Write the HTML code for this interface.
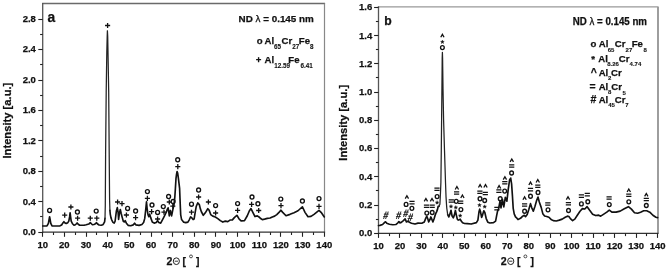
<!DOCTYPE html><html><head><meta charset="utf-8"><style>html,body{margin:0;padding:0;background:#fff;}body{width:668px;height:270px;overflow:hidden;font-family:"Liberation Sans",sans-serif;}svg{display:block;will-change:transform;} text{stroke:#111;stroke-width:0.25px;paint-order:fill;}</style></head><body><svg width="668" height="270" viewBox="0 0 668 270" font-family='"Liberation Sans", sans-serif' fill="#111">
<rect width="668" height="270" fill="#fff"/>
<line x1="42.1" y1="3.5" x2="325.1" y2="3.5" stroke="#6a6a6a" stroke-width="1.3"/>
<line x1="324.5" y1="3.5" x2="324.5" y2="232.2" stroke="#888" stroke-width="1.2"/>
<line x1="42.7" y1="2.9" x2="42.7" y2="232.79999999999998" stroke="#555" stroke-width="1.3"/>
<line x1="42.1" y1="232.2" x2="325.1" y2="232.2" stroke="#333" stroke-width="1.3"/>
<line x1="42.50" y1="232.2" x2="42.50" y2="236.79999999999998" stroke="#222" stroke-width="1.1"/>
<text x="42.70" y="248.0" text-anchor="middle" font-size="9.5" font-weight="bold">10</text>
<line x1="53.50" y1="232.2" x2="53.50" y2="235.0" stroke="#222" stroke-width="1.1"/>
<line x1="64.50" y1="232.2" x2="64.50" y2="236.79999999999998" stroke="#222" stroke-width="1.1"/>
<text x="64.36" y="248.0" text-anchor="middle" font-size="9.5" font-weight="bold">20</text>
<line x1="75.50" y1="232.2" x2="75.50" y2="235.0" stroke="#222" stroke-width="1.1"/>
<line x1="86.50" y1="232.2" x2="86.50" y2="236.79999999999998" stroke="#222" stroke-width="1.1"/>
<text x="86.02" y="248.0" text-anchor="middle" font-size="9.5" font-weight="bold">30</text>
<line x1="96.50" y1="232.2" x2="96.50" y2="235.0" stroke="#222" stroke-width="1.1"/>
<line x1="107.50" y1="232.2" x2="107.50" y2="236.79999999999998" stroke="#222" stroke-width="1.1"/>
<text x="107.68" y="248.0" text-anchor="middle" font-size="9.5" font-weight="bold">40</text>
<line x1="118.50" y1="232.2" x2="118.50" y2="235.0" stroke="#222" stroke-width="1.1"/>
<line x1="129.50" y1="232.2" x2="129.50" y2="236.79999999999998" stroke="#222" stroke-width="1.1"/>
<text x="129.35" y="248.0" text-anchor="middle" font-size="9.5" font-weight="bold">50</text>
<line x1="140.50" y1="232.2" x2="140.50" y2="235.0" stroke="#222" stroke-width="1.1"/>
<line x1="151.50" y1="232.2" x2="151.50" y2="236.79999999999998" stroke="#222" stroke-width="1.1"/>
<text x="151.01" y="248.0" text-anchor="middle" font-size="9.5" font-weight="bold">60</text>
<line x1="161.50" y1="232.2" x2="161.50" y2="235.0" stroke="#222" stroke-width="1.1"/>
<line x1="172.50" y1="232.2" x2="172.50" y2="236.79999999999998" stroke="#222" stroke-width="1.1"/>
<text x="172.67" y="248.0" text-anchor="middle" font-size="9.5" font-weight="bold">70</text>
<line x1="183.50" y1="232.2" x2="183.50" y2="235.0" stroke="#222" stroke-width="1.1"/>
<line x1="194.50" y1="232.2" x2="194.50" y2="236.79999999999998" stroke="#222" stroke-width="1.1"/>
<text x="194.33" y="248.0" text-anchor="middle" font-size="9.5" font-weight="bold">80</text>
<line x1="205.50" y1="232.2" x2="205.50" y2="235.0" stroke="#222" stroke-width="1.1"/>
<line x1="215.50" y1="232.2" x2="215.50" y2="236.79999999999998" stroke="#222" stroke-width="1.1"/>
<text x="215.99" y="248.0" text-anchor="middle" font-size="9.5" font-weight="bold">90</text>
<line x1="226.50" y1="232.2" x2="226.50" y2="235.0" stroke="#222" stroke-width="1.1"/>
<line x1="237.50" y1="232.2" x2="237.50" y2="236.79999999999998" stroke="#222" stroke-width="1.1"/>
<text x="237.65" y="248.0" text-anchor="middle" font-size="9.5" font-weight="bold">100</text>
<line x1="248.50" y1="232.2" x2="248.50" y2="235.0" stroke="#222" stroke-width="1.1"/>
<line x1="259.50" y1="232.2" x2="259.50" y2="236.79999999999998" stroke="#222" stroke-width="1.1"/>
<text x="259.32" y="248.0" text-anchor="middle" font-size="9.5" font-weight="bold">110</text>
<line x1="270.50" y1="232.2" x2="270.50" y2="235.0" stroke="#222" stroke-width="1.1"/>
<line x1="280.50" y1="232.2" x2="280.50" y2="236.79999999999998" stroke="#222" stroke-width="1.1"/>
<text x="280.98" y="248.0" text-anchor="middle" font-size="9.5" font-weight="bold">120</text>
<line x1="291.50" y1="232.2" x2="291.50" y2="235.0" stroke="#222" stroke-width="1.1"/>
<line x1="302.50" y1="232.2" x2="302.50" y2="236.79999999999998" stroke="#222" stroke-width="1.1"/>
<text x="302.64" y="248.0" text-anchor="middle" font-size="9.5" font-weight="bold">130</text>
<line x1="313.50" y1="232.2" x2="313.50" y2="235.0" stroke="#222" stroke-width="1.1"/>
<line x1="324.50" y1="232.2" x2="324.50" y2="236.79999999999998" stroke="#222" stroke-width="1.1"/>
<text x="324.30" y="248.0" text-anchor="middle" font-size="9.5" font-weight="bold">140</text>
<line x1="38.300000000000004" y1="232.50" x2="42.7" y2="232.50" stroke="#222" stroke-width="1.1"/>
<text x="35.9" y="235.10" text-anchor="end" font-size="9.5" font-weight="bold">0.0</text>
<line x1="38.300000000000004" y1="201.50" x2="42.7" y2="201.50" stroke="#222" stroke-width="1.1"/>
<text x="35.9" y="204.66" text-anchor="end" font-size="9.5" font-weight="bold">0.4</text>
<line x1="38.300000000000004" y1="171.50" x2="42.7" y2="171.50" stroke="#222" stroke-width="1.1"/>
<text x="35.9" y="174.22" text-anchor="end" font-size="9.5" font-weight="bold">0.8</text>
<line x1="38.300000000000004" y1="140.50" x2="42.7" y2="140.50" stroke="#222" stroke-width="1.1"/>
<text x="35.9" y="143.78" text-anchor="end" font-size="9.5" font-weight="bold">1.2</text>
<line x1="38.300000000000004" y1="110.50" x2="42.7" y2="110.50" stroke="#222" stroke-width="1.1"/>
<text x="35.9" y="113.34" text-anchor="end" font-size="9.5" font-weight="bold">1.6</text>
<line x1="38.300000000000004" y1="80.50" x2="42.7" y2="80.50" stroke="#222" stroke-width="1.1"/>
<text x="35.9" y="82.90" text-anchor="end" font-size="9.5" font-weight="bold">2.0</text>
<line x1="38.300000000000004" y1="49.50" x2="42.7" y2="49.50" stroke="#222" stroke-width="1.1"/>
<text x="35.9" y="52.46" text-anchor="end" font-size="9.5" font-weight="bold">2.4</text>
<line x1="38.300000000000004" y1="19.50" x2="42.7" y2="19.50" stroke="#222" stroke-width="1.1"/>
<text x="35.9" y="22.02" text-anchor="end" font-size="9.5" font-weight="bold">2.8</text>
<line x1="40.1" y1="216.50" x2="42.7" y2="216.50" stroke="#222" stroke-width="1.1"/>
<line x1="40.1" y1="186.50" x2="42.7" y2="186.50" stroke="#222" stroke-width="1.1"/>
<line x1="40.1" y1="156.50" x2="42.7" y2="156.50" stroke="#222" stroke-width="1.1"/>
<line x1="40.1" y1="125.50" x2="42.7" y2="125.50" stroke="#222" stroke-width="1.1"/>
<line x1="40.1" y1="95.50" x2="42.7" y2="95.50" stroke="#222" stroke-width="1.1"/>
<line x1="40.1" y1="64.50" x2="42.7" y2="64.50" stroke="#222" stroke-width="1.1"/>
<line x1="40.1" y1="34.50" x2="42.7" y2="34.50" stroke="#222" stroke-width="1.1"/>
<line x1="377.9" y1="6.9" x2="658.6" y2="6.9" stroke="#999" stroke-width="1.3"/>
<line x1="658.0" y1="6.9" x2="658.0" y2="233.3" stroke="#999" stroke-width="1.9"/>
<line x1="378.5" y1="6.300000000000001" x2="378.5" y2="233.9" stroke="#555" stroke-width="1.3"/>
<line x1="377.9" y1="233.3" x2="658.6" y2="233.3" stroke="#333" stroke-width="1.3"/>
<line x1="378.50" y1="233.3" x2="378.50" y2="237.9" stroke="#222" stroke-width="1.1"/>
<text x="378.50" y="248.7" text-anchor="middle" font-size="9.5" font-weight="bold">10</text>
<line x1="389.50" y1="233.3" x2="389.50" y2="236.10000000000002" stroke="#222" stroke-width="1.1"/>
<line x1="399.50" y1="233.3" x2="399.50" y2="237.9" stroke="#222" stroke-width="1.1"/>
<text x="399.97" y="248.7" text-anchor="middle" font-size="9.5" font-weight="bold">20</text>
<line x1="410.50" y1="233.3" x2="410.50" y2="236.10000000000002" stroke="#222" stroke-width="1.1"/>
<line x1="421.50" y1="233.3" x2="421.50" y2="237.9" stroke="#222" stroke-width="1.1"/>
<text x="421.44" y="248.7" text-anchor="middle" font-size="9.5" font-weight="bold">30</text>
<line x1="432.50" y1="233.3" x2="432.50" y2="236.10000000000002" stroke="#222" stroke-width="1.1"/>
<line x1="442.50" y1="233.3" x2="442.50" y2="237.9" stroke="#222" stroke-width="1.1"/>
<text x="442.91" y="248.7" text-anchor="middle" font-size="9.5" font-weight="bold">40</text>
<line x1="453.50" y1="233.3" x2="453.50" y2="236.10000000000002" stroke="#222" stroke-width="1.1"/>
<line x1="464.50" y1="233.3" x2="464.50" y2="237.9" stroke="#222" stroke-width="1.1"/>
<text x="464.38" y="248.7" text-anchor="middle" font-size="9.5" font-weight="bold">50</text>
<line x1="475.50" y1="233.3" x2="475.50" y2="236.10000000000002" stroke="#222" stroke-width="1.1"/>
<line x1="485.50" y1="233.3" x2="485.50" y2="237.9" stroke="#222" stroke-width="1.1"/>
<text x="485.85" y="248.7" text-anchor="middle" font-size="9.5" font-weight="bold">60</text>
<line x1="496.50" y1="233.3" x2="496.50" y2="236.10000000000002" stroke="#222" stroke-width="1.1"/>
<line x1="507.50" y1="233.3" x2="507.50" y2="237.9" stroke="#222" stroke-width="1.1"/>
<text x="507.32" y="248.7" text-anchor="middle" font-size="9.5" font-weight="bold">70</text>
<line x1="518.50" y1="233.3" x2="518.50" y2="236.10000000000002" stroke="#222" stroke-width="1.1"/>
<line x1="528.50" y1="233.3" x2="528.50" y2="237.9" stroke="#222" stroke-width="1.1"/>
<text x="528.78" y="248.7" text-anchor="middle" font-size="9.5" font-weight="bold">80</text>
<line x1="539.50" y1="233.3" x2="539.50" y2="236.10000000000002" stroke="#222" stroke-width="1.1"/>
<line x1="550.50" y1="233.3" x2="550.50" y2="237.9" stroke="#222" stroke-width="1.1"/>
<text x="550.25" y="248.7" text-anchor="middle" font-size="9.5" font-weight="bold">90</text>
<line x1="560.50" y1="233.3" x2="560.50" y2="236.10000000000002" stroke="#222" stroke-width="1.1"/>
<line x1="571.50" y1="233.3" x2="571.50" y2="237.9" stroke="#222" stroke-width="1.1"/>
<text x="571.72" y="248.7" text-anchor="middle" font-size="9.5" font-weight="bold">100</text>
<line x1="582.50" y1="233.3" x2="582.50" y2="236.10000000000002" stroke="#222" stroke-width="1.1"/>
<line x1="593.50" y1="233.3" x2="593.50" y2="237.9" stroke="#222" stroke-width="1.1"/>
<text x="593.19" y="248.7" text-anchor="middle" font-size="9.5" font-weight="bold">110</text>
<line x1="603.50" y1="233.3" x2="603.50" y2="236.10000000000002" stroke="#222" stroke-width="1.1"/>
<line x1="614.50" y1="233.3" x2="614.50" y2="237.9" stroke="#222" stroke-width="1.1"/>
<text x="614.66" y="248.7" text-anchor="middle" font-size="9.5" font-weight="bold">120</text>
<line x1="625.50" y1="233.3" x2="625.50" y2="236.10000000000002" stroke="#222" stroke-width="1.1"/>
<line x1="636.50" y1="233.3" x2="636.50" y2="237.9" stroke="#222" stroke-width="1.1"/>
<text x="636.13" y="248.7" text-anchor="middle" font-size="9.5" font-weight="bold">130</text>
<line x1="646.50" y1="233.3" x2="646.50" y2="236.10000000000002" stroke="#222" stroke-width="1.1"/>
<line x1="657.50" y1="233.3" x2="657.50" y2="237.9" stroke="#222" stroke-width="1.1"/>
<text x="657.60" y="248.7" text-anchor="middle" font-size="9.5" font-weight="bold">140</text>
<line x1="374.1" y1="233.50" x2="378.5" y2="233.50" stroke="#222" stroke-width="1.1"/>
<text x="372.2" y="236.20" text-anchor="end" font-size="9.5" font-weight="bold">0.0</text>
<line x1="374.1" y1="205.50" x2="378.5" y2="205.50" stroke="#222" stroke-width="1.1"/>
<text x="372.2" y="207.96" text-anchor="end" font-size="9.5" font-weight="bold">0.2</text>
<line x1="374.1" y1="176.50" x2="378.5" y2="176.50" stroke="#222" stroke-width="1.1"/>
<text x="372.2" y="179.72" text-anchor="end" font-size="9.5" font-weight="bold">0.4</text>
<line x1="374.1" y1="148.50" x2="378.5" y2="148.50" stroke="#222" stroke-width="1.1"/>
<text x="372.2" y="151.48" text-anchor="end" font-size="9.5" font-weight="bold">0.6</text>
<line x1="374.1" y1="120.50" x2="378.5" y2="120.50" stroke="#222" stroke-width="1.1"/>
<text x="372.2" y="123.24" text-anchor="end" font-size="9.5" font-weight="bold">0.8</text>
<line x1="374.1" y1="92.50" x2="378.5" y2="92.50" stroke="#222" stroke-width="1.1"/>
<text x="372.2" y="95.00" text-anchor="end" font-size="9.5" font-weight="bold">1.0</text>
<line x1="374.1" y1="63.50" x2="378.5" y2="63.50" stroke="#222" stroke-width="1.1"/>
<text x="372.2" y="66.76" text-anchor="end" font-size="9.5" font-weight="bold">1.2</text>
<line x1="374.1" y1="35.50" x2="378.5" y2="35.50" stroke="#222" stroke-width="1.1"/>
<text x="372.2" y="38.52" text-anchor="end" font-size="9.5" font-weight="bold">1.4</text>
<line x1="374.1" y1="7.50" x2="378.5" y2="7.50" stroke="#222" stroke-width="1.1"/>
<text x="372.2" y="10.28" text-anchor="end" font-size="9.5" font-weight="bold">1.6</text>
<line x1="375.9" y1="219.50" x2="378.5" y2="219.50" stroke="#222" stroke-width="1.1"/>
<line x1="375.9" y1="190.50" x2="378.5" y2="190.50" stroke="#222" stroke-width="1.1"/>
<line x1="375.9" y1="162.50" x2="378.5" y2="162.50" stroke="#222" stroke-width="1.1"/>
<line x1="375.9" y1="134.50" x2="378.5" y2="134.50" stroke="#222" stroke-width="1.1"/>
<line x1="375.9" y1="106.50" x2="378.5" y2="106.50" stroke="#222" stroke-width="1.1"/>
<line x1="375.9" y1="77.50" x2="378.5" y2="77.50" stroke="#222" stroke-width="1.1"/>
<line x1="375.9" y1="49.50" x2="378.5" y2="49.50" stroke="#222" stroke-width="1.1"/>
<line x1="375.9" y1="21.50" x2="378.5" y2="21.50" stroke="#222" stroke-width="1.1"/>
<polyline points="42.7,225.95 47.0,225.95 48.4,223.35 49.6,216.75 50.8,223.35 52.0,225.95 60.0,225.85 61.6,225.05 63.1,222.65 63.9,221.65 64.7,222.65 66.2,223.45 67.8,222.65 68.8,221.15 69.6,216.95 70.1,212.85 70.6,216.95 71.2,221.15 72.5,223.75 74.0,225.25 75.4,224.75 76.4,223.75 77.1,222.95 78.2,224.25 79.7,225.25 82.0,225.25 84.1,225.25 86.2,224.75 88.8,224.05 90.3,222.65 91.4,223.75 92.4,224.75 93.9,224.45 95.5,223.75 96.5,222.65 97.6,224.05 99.1,225.05 101.2,225.25 102.8,224.75 103.6,223.65 104.6,221.85 105.0,218.35" fill="none" stroke="#111" stroke-width="1.65" stroke-linejoin="round" stroke-linecap="round"/>
<polyline points="109.9,210.35 110.3,214.35 111.0,217.85 111.8,220.05 113.0,222.35 114.2,223.15 115.1,221.25 116.4,210.85 117.3,207.65 118.1,212.15 118.6,219.35 119.4,213.45 120.3,209.55 121.2,213.45 122.2,217.35 123.3,221.25 124.2,221.95 125.2,220.65 126.4,223.15 128.1,225.35 130.7,225.75 133.3,224.85 134.6,223.15 135.8,224.85 139.1,225.35 141.9,224.45 143.6,222.55 144.7,218.65 145.6,210.85 146.5,201.85 147.1,208.35 148.0,214.75 148.8,216.75 149.7,214.15 150.6,217.35 152.3,221.95 154.2,223.15 156.2,222.55 157.5,220.65 158.8,222.55 160.7,223.15 162.7,219.35 164.0,216.85 165.1,214.65 166.3,212.25 167.3,209.35 168.1,207.85 168.7,211.35 169.3,215.85 170.4,210.45 171.6,215.85 172.8,209.85 174.0,204.55 174.8,197.45 175.4,188.35 176.0,178.35 176.6,173.85 177.1,171.55 177.7,173.35 178.4,178.35 179.6,188.35 180.0,198.35 180.4,208.35 180.7,214.85 181.6,219.55 183.7,222.15 185.8,222.65 187.9,222.15 189.4,219.55 190.5,216.95 191.5,217.45 193.1,219.55 194.1,219.05 195.1,212.85 196.2,206.55 197.7,202.95 199.3,204.55 200.3,208.65 201.4,211.75 203.3,215.35 205.3,212.85 207.8,208.65 209.2,210.35 210.7,214.55 212.8,216.15 215.3,217.05 217.8,218.65 220.3,220.65 222.8,222.05 225.3,221.15 227.8,221.65 230.0,220.05 232.4,219.85 234.3,217.65 236.9,215.25 239.2,219.15 241.1,220.85 244.5,220.65 247.3,215.75 249.3,210.95 251.0,208.55 253.1,212.85 255.0,216.55 257.3,215.85 259.0,216.95 260.7,218.55 262.3,219.65 264.6,219.15 267.3,218.35 270.1,218.05 272.3,216.95 274.6,216.15 276.8,214.65 279.0,212.45 280.8,210.15 282.5,212.15 286.0,215.75 290.0,214.35 294.0,212.75 298.0,210.75 302.4,206.75 305.0,212.35 308.0,216.75 311.0,216.35 314.0,214.35 319.0,210.35 321.6,212.95 324.3,216.95" fill="none" stroke="#111" stroke-width="1.65" stroke-linejoin="round" stroke-linecap="round"/>
<polyline points="105.0,218.35 105.3,205.35 105.6,154.35 106.2,92.35 106.8,52.35 107.2,36.35 107.4,30.75 107.7,36.35 108.0,52.35 108.7,92.35 109.2,154.35 109.6,200.35 109.9,210.35" fill="none" stroke="#222" stroke-width="1.25" stroke-linejoin="round" stroke-linecap="round"/>
<polyline points="378.5,225.55 380.0,225.35 382.6,224.55 384.7,222.35 385.5,221.75 386.8,223.25 389.4,224.25 392.8,224.75 395.8,224.55 397.9,222.85 398.9,221.55 399.8,222.85 401.3,222.35 403.4,220.65 405.1,218.95 406.4,221.95 408.1,221.15 409.4,222.35 411.5,223.25 415.0,224.05 418.0,223.15 421.8,223.25 424.3,221.95 425.8,218.15 426.8,216.25 427.8,218.75 428.7,221.95 430.0,219.45 430.8,216.95 431.9,219.45 432.9,221.95 434.1,218.75 435.0,215.65 435.9,213.15 436.6,211.85 437.5,209.35 438.2,206.25 439.0,206.35" fill="none" stroke="#111" stroke-width="1.65" stroke-linejoin="round" stroke-linecap="round"/>
<polyline points="447.7,214.65 448.8,216.95 449.9,214.15 451.0,210.25 452.0,215.75 453.3,217.85 454.4,214.85 455.4,210.45 456.3,214.85 457.3,219.15 458.3,220.05 459.2,219.65 460.2,219.15 461.2,221.05 462.6,222.75 464.5,223.45 467.4,223.65 471.2,224.05 476.4,222.65 477.9,220.05 479.0,211.75 479.7,209.15 480.5,211.75 481.6,217.45 482.6,214.85 483.8,210.75 484.9,212.75 486.2,218.55 487.8,222.15 489.9,222.95 493.5,222.65 495.6,221.05 496.6,215.95 497.5,211.35 498.6,208.85 500.0,201.15 501.0,207.95 502.4,199.25 503.8,206.95 505.3,197.35 506.9,201.15 508.2,189.65 509.6,179.95 510.7,178.05 511.6,183.85 512.4,195.35 513.2,208.35 514.2,213.85 515.5,216.85 516.9,218.15 518.0,219.55 520.5,218.35 522.7,216.15 524.3,215.35 525.5,216.65 527.2,214.55 528.8,209.55 530.5,203.65 531.8,207.85 533.3,211.15 535.0,206.15 536.7,200.35 538.0,197.05 539.3,202.05 541.2,207.35 542.8,213.65 544.6,215.95 546.7,216.45 548.9,217.25 551.1,219.45 553.3,220.65 556.3,220.95 559.3,220.15 562.2,219.15 565.2,217.25 567.4,216.15 568.9,216.45 570.4,218.65 572.6,220.65 574.8,219.15 577.0,215.75 580.0,211.25 582.4,208.65 584.8,209.05 587.1,206.65 589.5,210.05 592.6,214.15 595.6,215.55 598.7,215.15 600.7,216.15 603.8,214.15 606.8,212.15 609.3,210.05 611.9,212.15 616.1,212.15 620.2,211.15 624.3,208.75 628.4,206.65 631.4,209.15 634.5,212.75 637.6,213.25 640.6,212.15 643.7,210.75 646.7,210.75 649.8,212.15 652.9,215.25 655.9,217.25 657.6,217.65" fill="none" stroke="#111" stroke-width="1.65" stroke-linejoin="round" stroke-linecap="round"/>
<polyline points="439.0,206.35 439.9,204.35 440.5,192.35 440.9,182.35 441.3,150.35 441.6,120.35 441.9,90.35 442.1,70.35 442.2,58.35 442.4,52.35 442.6,58.35 442.7,66.35 443.0,88.35 443.6,120.35 444.5,150.35 445.5,182.35 446.0,196.35 446.5,204.35 446.8,208.35 447.7,214.65" fill="none" stroke="#222" stroke-width="1.25" stroke-linejoin="round" stroke-linecap="round"/>
<ellipse cx="49.6" cy="210.4" rx="1.95" ry="2.05" fill="none" stroke="#111" stroke-width="1.35"/>
<path d="M62.150000000000006 215.1H67.25M64.7 212.54999999999998V217.65" stroke="#111" stroke-width="1.3" fill="none"/>
<path d="M68.35000000000001 207H73.45M70.9 204.45V209.55" stroke="#111" stroke-width="1.3" fill="none"/>
<ellipse cx="77.4" cy="212" rx="1.95" ry="2.05" fill="none" stroke="#111" stroke-width="1.35"/>
<path d="M75.05 218.2H80.14999999999999M77.6 215.64999999999998V220.75" stroke="#111" stroke-width="1.3" fill="none"/>
<path d="M87.75 218.2H92.85M90.3 215.64999999999998V220.75" stroke="#111" stroke-width="1.3" fill="none"/>
<ellipse cx="96.2" cy="211.1" rx="1.95" ry="2.05" fill="none" stroke="#111" stroke-width="1.35"/>
<path d="M94.25 218.2H99.35M96.8 215.64999999999998V220.75" stroke="#111" stroke-width="1.3" fill="none"/>
<path d="M105.05 25.5H110.14999999999999M107.6 22.95V28.05" stroke="#111" stroke-width="1.3" fill="none"/>
<path d="M115.05 202H120.14999999999999M117.6 199.45V204.55" stroke="#111" stroke-width="1.3" fill="none"/>
<path d="M119.45 203.6H124.55M122 201.04999999999998V206.15" stroke="#111" stroke-width="1.3" fill="none"/>
<ellipse cx="127.6" cy="208.4" rx="1.95" ry="2.05" fill="none" stroke="#111" stroke-width="1.35"/>
<path d="M123.85000000000001 215H128.95000000000002M126.4 212.45V217.55" stroke="#111" stroke-width="1.3" fill="none"/>
<ellipse cx="135.6" cy="211" rx="1.95" ry="2.05" fill="none" stroke="#111" stroke-width="1.35"/>
<path d="M133.04999999999998 217.6H138.15M135.6 215.04999999999998V220.15" stroke="#111" stroke-width="1.3" fill="none"/>
<ellipse cx="147.4" cy="191.6" rx="1.95" ry="2.05" fill="none" stroke="#111" stroke-width="1.35"/>
<path d="M144.85 198.4H149.95000000000002M147.4 195.85V200.95000000000002" stroke="#111" stroke-width="1.3" fill="none"/>
<ellipse cx="152" cy="205" rx="1.95" ry="2.05" fill="none" stroke="#111" stroke-width="1.35"/>
<path d="M149.04999999999998 211.6H154.15M151.6 209.04999999999998V214.15" stroke="#111" stroke-width="1.3" fill="none"/>
<ellipse cx="157.6" cy="212.4" rx="1.95" ry="2.05" fill="none" stroke="#111" stroke-width="1.35"/>
<path d="M155.04999999999998 219H160.15M157.6 216.45V221.55" stroke="#111" stroke-width="1.3" fill="none"/>
<ellipse cx="163.3" cy="206.6" rx="1.95" ry="2.05" fill="none" stroke="#111" stroke-width="1.35"/>
<path d="M161.45 212.2H166.55M164 209.64999999999998V214.75" stroke="#111" stroke-width="1.3" fill="none"/>
<ellipse cx="168.6" cy="196.5" rx="1.95" ry="2.05" fill="none" stroke="#111" stroke-width="1.35"/>
<path d="M166.75 202H171.85000000000002M169.3 199.45V204.55" stroke="#111" stroke-width="1.3" fill="none"/>
<ellipse cx="173.1" cy="201.5" rx="1.95" ry="2.05" fill="none" stroke="#111" stroke-width="1.35"/>
<path d="M170.25 206.2H175.35000000000002M172.8 203.64999999999998V208.75" stroke="#111" stroke-width="1.3" fill="none"/>
<ellipse cx="177.7" cy="159.8" rx="1.95" ry="2.05" fill="none" stroke="#111" stroke-width="1.35"/>
<path d="M175.25 166.6H180.35000000000002M177.8 164.04999999999998V169.15" stroke="#111" stroke-width="1.3" fill="none"/>
<ellipse cx="191.5" cy="204.2" rx="1.95" ry="2.05" fill="none" stroke="#111" stroke-width="1.35"/>
<path d="M188.95 212.2H194.05M191.5 209.64999999999998V214.75" stroke="#111" stroke-width="1.3" fill="none"/>
<ellipse cx="198.6" cy="190" rx="1.95" ry="2.05" fill="none" stroke="#111" stroke-width="1.35"/>
<path d="M196.04999999999998 197H201.15M198.6 194.45V199.55" stroke="#111" stroke-width="1.3" fill="none"/>
<path d="M205.85 202H210.95000000000002M208.4 199.45V204.55" stroke="#111" stroke-width="1.3" fill="none"/>
<ellipse cx="215.6" cy="205.6" rx="1.95" ry="2.05" fill="none" stroke="#111" stroke-width="1.35"/>
<path d="M213.04999999999998 213H218.15M215.6 210.45V215.55" stroke="#111" stroke-width="1.3" fill="none"/>
<ellipse cx="237.6" cy="203.6" rx="1.95" ry="2.05" fill="none" stroke="#111" stroke-width="1.35"/>
<path d="M235.04999999999998 210.4H240.15M237.6 207.85V212.95000000000002" stroke="#111" stroke-width="1.3" fill="none"/>
<ellipse cx="252" cy="197" rx="1.95" ry="2.05" fill="none" stroke="#111" stroke-width="1.35"/>
<path d="M249.04999999999998 204.4H254.15M251.6 201.85V206.95000000000002" stroke="#111" stroke-width="1.3" fill="none"/>
<ellipse cx="257.9" cy="203.8" rx="1.95" ry="2.05" fill="none" stroke="#111" stroke-width="1.35"/>
<path d="M256.15 210.5H261.25M258.7 207.95V213.05" stroke="#111" stroke-width="1.3" fill="none"/>
<ellipse cx="280.8" cy="199.1" rx="1.95" ry="2.05" fill="none" stroke="#111" stroke-width="1.35"/>
<path d="M278.45 205.6H283.55M281 203.04999999999998V208.15" stroke="#111" stroke-width="1.3" fill="none"/>
<ellipse cx="302.4" cy="201" rx="1.95" ry="2.05" fill="none" stroke="#111" stroke-width="1.35"/>
<ellipse cx="319" cy="198.6" rx="1.95" ry="2.05" fill="none" stroke="#111" stroke-width="1.35"/>
<path d="M316.45 206.4H321.55M319 203.85V208.95000000000002" stroke="#111" stroke-width="1.3" fill="none"/>
<text transform="translate(386.00,215.40) skewX(-10)" x="-2.5" y="3.6" font-size="10.8" font-weight="bold" textLength="5.0" lengthAdjust="spacingAndGlyphs">#</text>
<text transform="translate(398.70,215.40) skewX(-10)" x="-2.5" y="3.6" font-size="10.8" font-weight="bold" textLength="5.0" lengthAdjust="spacingAndGlyphs">#</text>
<text transform="translate(406.00,213.30) skewX(-10)" x="-2.5" y="3.6" font-size="10.8" font-weight="bold" textLength="5.0" lengthAdjust="spacingAndGlyphs">#</text>
<text transform="translate(410.50,217.10) skewX(-10)" x="-2.5" y="3.6" font-size="10.8" font-weight="bold" textLength="5.0" lengthAdjust="spacingAndGlyphs">#</text>
<path d="M405.25 198.64999999999998L406.9 195.75L408.54999999999995 198.64999999999998" stroke="#111" stroke-width="1.3" fill="none"/>
<ellipse cx="406.1" cy="204.4" rx="1.85" ry="2.0" fill="none" stroke="#111" stroke-width="1.35"/>
<path d="M409.4 201.45H414.6M409.4 203.75H414.6" stroke="#111" stroke-width="1.25" fill="none"/>
<ellipse cx="411.9" cy="208.3" rx="1.85" ry="2.0" fill="none" stroke="#111" stroke-width="1.35"/>
<path d="M424.25 201.35L425.9 198.45000000000002L427.54999999999995 201.35" stroke="#111" stroke-width="1.3" fill="none"/>
<path d="M430.35 201.35L432 198.45000000000002L433.65 201.35" stroke="#111" stroke-width="1.3" fill="none"/>
<path d="M423.9 205.05H429.1M423.9 207.35H429.1" stroke="#111" stroke-width="1.25" fill="none"/>
<path d="M429.59999999999997 205.05H434.8M429.59999999999997 207.35H434.8" stroke="#111" stroke-width="1.25" fill="none"/>
<ellipse cx="426.8" cy="213.1" rx="1.85" ry="2.0" fill="none" stroke="#111" stroke-width="1.35"/>
<ellipse cx="432.2" cy="212.5" rx="1.85" ry="2.0" fill="none" stroke="#111" stroke-width="1.35"/>
<path d="M434.4 188.05H439.6M434.4 190.35H439.6" stroke="#111" stroke-width="1.25" fill="none"/>
<ellipse cx="437.1" cy="196.6" rx="1.85" ry="2.0" fill="none" stroke="#111" stroke-width="1.35"/>
<polygon points="437.10,200.65 437.60,201.91 438.95,202.00 437.91,202.86 438.25,204.18 437.10,203.45 435.95,204.18 436.29,202.86 435.25,202.00 436.60,201.91" fill="#111" stroke="#111" stroke-width="0.35"/>
<path d="M440.75 37.25L442.4 34.349999999999994L444.04999999999995 37.25" stroke="#111" stroke-width="1.3" fill="none"/>
<polygon points="442.40,40.05 442.90,41.31 444.25,41.40 443.21,42.26 443.55,43.58 442.40,42.85 441.25,43.58 441.59,42.26 440.55,41.40 441.90,41.31" fill="#111" stroke="#111" stroke-width="0.35"/>
<ellipse cx="442.4" cy="47.6" rx="1.85" ry="2.0" fill="none" stroke="#111" stroke-width="1.35"/>
<path d="M455.25 189.45L456.9 186.55L458.54999999999995 189.45" stroke="#111" stroke-width="1.3" fill="none"/>
<path d="M454.0 191.85H459.20000000000005M454.0 194.15H459.20000000000005" stroke="#111" stroke-width="1.25" fill="none"/>
<ellipse cx="456.2" cy="201.3" rx="1.85" ry="2.0" fill="none" stroke="#111" stroke-width="1.35"/>
<path d="M458.09999999999997 201.05H463.3M458.09999999999997 203.35H463.3" stroke="#111" stroke-width="1.25" fill="none"/>
<path d="M460.75 197.95L462.4 195.05L464.04999999999995 197.95" stroke="#111" stroke-width="1.3" fill="none"/>
<ellipse cx="460.9" cy="209.6" rx="1.85" ry="2.0" fill="none" stroke="#111" stroke-width="1.35"/>
<polygon points="451.00,204.55 451.50,205.81 452.85,205.90 451.81,206.76 452.15,208.08 451.00,207.35 449.85,208.08 450.19,206.76 449.15,205.90 450.50,205.81" fill="#111" stroke="#111" stroke-width="0.35"/>
<polygon points="455.80,205.55 456.30,206.81 457.65,206.90 456.61,207.76 456.95,209.08 455.80,208.35 454.65,209.08 454.99,207.76 453.95,206.90 455.30,206.81" fill="#111" stroke="#111" stroke-width="0.35"/>
<polygon points="460.20,213.75 460.70,215.01 462.05,215.10 461.01,215.96 461.35,217.28 460.20,216.55 459.05,217.28 459.39,215.96 458.35,215.10 459.70,215.01" fill="#111" stroke="#111" stroke-width="0.35"/>
<path d="M448.7 199.85H453.90000000000003M448.7 202.15H453.90000000000003" stroke="#111" stroke-width="1.25" fill="none"/>
<path d="M478.45000000000005 187.54999999999998L480.1 184.65L481.75 187.54999999999998" stroke="#111" stroke-width="1.3" fill="none"/>
<path d="M483.85 187.54999999999998L485.5 184.65L487.15 187.54999999999998" stroke="#111" stroke-width="1.3" fill="none"/>
<path d="M477.29999999999995 191.15H482.5M477.29999999999995 193.45H482.5" stroke="#111" stroke-width="1.25" fill="none"/>
<path d="M482.7 192.35H487.90000000000003M482.7 194.65H487.90000000000003" stroke="#111" stroke-width="1.25" fill="none"/>
<ellipse cx="480" cy="198.7" rx="1.85" ry="2.0" fill="none" stroke="#111" stroke-width="1.35"/>
<ellipse cx="484.7" cy="200.5" rx="1.85" ry="2.0" fill="none" stroke="#111" stroke-width="1.35"/>
<polygon points="479.50,203.25 480.00,204.51 481.35,204.60 480.31,205.46 480.65,206.78 479.50,206.05 478.35,206.78 478.69,205.46 477.65,204.60 479.00,204.51" fill="#111" stroke="#111" stroke-width="0.35"/>
<polygon points="484.70,204.75 485.20,206.01 486.55,206.10 485.51,206.96 485.85,208.28 484.70,207.55 483.55,208.28 483.89,206.96 482.85,206.10 484.20,206.01" fill="#111" stroke="#111" stroke-width="0.35"/>
<path d="M497.45000000000005 188.54999999999998L499.1 185.65L500.75 188.54999999999998" stroke="#111" stroke-width="1.3" fill="none"/>
<path d="M496.29999999999995 189.95H501.5M496.29999999999995 192.25H501.5" stroke="#111" stroke-width="1.25" fill="none"/>
<ellipse cx="500.2" cy="198.7" rx="1.85" ry="2.0" fill="none" stroke="#111" stroke-width="1.35"/>
<path d="M494.29999999999995 207.45H499.5M494.29999999999995 209.75H499.5" stroke="#111" stroke-width="1.25" fill="none"/>
<ellipse cx="504.7" cy="191.1" rx="1.85" ry="2.0" fill="none" stroke="#111" stroke-width="1.35"/>
<path d="M503.25 179.64999999999998L504.9 176.75L506.54999999999995 179.64999999999998" stroke="#111" stroke-width="1.3" fill="none"/>
<path d="M502.2 181.55H507.40000000000003M502.2 183.85H507.40000000000003" stroke="#111" stroke-width="1.25" fill="none"/>
<path d="M510.15000000000003 161.85L511.8 158.95000000000002L513.45 161.85" stroke="#111" stroke-width="1.3" fill="none"/>
<path d="M509.09999999999997 164.85H514.3M509.09999999999997 167.15H514.3" stroke="#111" stroke-width="1.25" fill="none"/>
<ellipse cx="511.6" cy="173.0" rx="1.85" ry="2.0" fill="none" stroke="#111" stroke-width="1.35"/>
<path d="M522.95 199.75L524.6 196.85000000000002L526.25 199.75" stroke="#111" stroke-width="1.3" fill="none"/>
<path d="M522.0 203.85H527.2M522.0 206.15H527.2" stroke="#111" stroke-width="1.25" fill="none"/>
<ellipse cx="524.6" cy="211.2" rx="1.85" ry="2.0" fill="none" stroke="#111" stroke-width="1.35"/>
<path d="M528.85 185.04999999999998L530.5 182.15L532.15 185.04999999999998" stroke="#111" stroke-width="1.3" fill="none"/>
<path d="M527.9 188.45H533.1M527.9 190.75H533.1" stroke="#111" stroke-width="1.25" fill="none"/>
<ellipse cx="530.5" cy="196.2" rx="1.85" ry="2.0" fill="none" stroke="#111" stroke-width="1.35"/>
<path d="M536.15 182.45L537.8 179.55L539.4499999999999 182.45" stroke="#111" stroke-width="1.3" fill="none"/>
<path d="M535.1999999999999 185.15H540.4M535.1999999999999 187.45H540.4" stroke="#111" stroke-width="1.25" fill="none"/>
<ellipse cx="538" cy="192.5" rx="1.85" ry="2.0" fill="none" stroke="#111" stroke-width="1.35"/>
<path d="M545.1999999999999 202.85H550.4M545.1999999999999 205.15H550.4" stroke="#111" stroke-width="1.25" fill="none"/>
<ellipse cx="548" cy="209.8" rx="1.85" ry="2.0" fill="none" stroke="#111" stroke-width="1.35"/>
<path d="M566.35 199.64999999999998L568 196.75L569.65 199.64999999999998" stroke="#111" stroke-width="1.3" fill="none"/>
<path d="M565.8 202.55H571.0M565.8 204.85H571.0" stroke="#111" stroke-width="1.25" fill="none"/>
<ellipse cx="568.5" cy="210.5" rx="1.85" ry="2.0" fill="none" stroke="#111" stroke-width="1.35"/>
<path d="M578.8 194.95H584.0M578.8 197.25H584.0" stroke="#111" stroke-width="1.25" fill="none"/>
<ellipse cx="581.4" cy="203.9" rx="1.85" ry="2.0" fill="none" stroke="#111" stroke-width="1.35"/>
<path d="M584.6999999999999 193.45H589.9M584.6999999999999 195.75H589.9" stroke="#111" stroke-width="1.25" fill="none"/>
<ellipse cx="587.8" cy="201.7" rx="1.85" ry="2.0" fill="none" stroke="#111" stroke-width="1.35"/>
<path d="M606.5 196.85H611.7M606.5 199.15H611.7" stroke="#111" stroke-width="1.25" fill="none"/>
<ellipse cx="609.3" cy="204.6" rx="1.85" ry="2.0" fill="none" stroke="#111" stroke-width="1.35"/>
<path d="M627.15 191.95L628.8 189.05L630.4499999999999 191.95" stroke="#111" stroke-width="1.3" fill="none"/>
<path d="M626.1999999999999 194.15H631.4M626.1999999999999 196.45H631.4" stroke="#111" stroke-width="1.25" fill="none"/>
<ellipse cx="628.8" cy="201.8" rx="1.85" ry="2.0" fill="none" stroke="#111" stroke-width="1.35"/>
<path d="M644.65 196.35L646.3 193.45000000000002L647.9499999999999 196.35" stroke="#111" stroke-width="1.3" fill="none"/>
<path d="M643.6999999999999 198.35H648.9M643.6999999999999 200.65H648.9" stroke="#111" stroke-width="1.25" fill="none"/>
<ellipse cx="646.3" cy="205.5" rx="1.85" ry="2.0" fill="none" stroke="#111" stroke-width="1.35"/>
<text x="47.6" y="22.4" font-size="13.8" font-weight="bold">a</text>
<text x="384.2" y="25" font-size="12.2" font-weight="bold">b</text>
<text x="238.6" y="22.1" font-size="9.6" font-weight="bold" textLength="75.2" lengthAdjust="spacingAndGlyphs">ND <tspan font-weight="normal">λ</tspan> = 0.145 nm</text>
<text x="572.7" y="25.0" font-size="10.4" font-weight="bold" textLength="74.3" lengthAdjust="spacingAndGlyphs">ND <tspan font-weight="normal">λ</tspan> = 0.145 nm</text>
<text x="256.73" y="43.9" font-size="9.6" font-weight="bold">o</text>
<text x="264.56" y="43.9" font-size="9.6" font-weight="bold">Al</text>
<text x="273.97" y="48.6" font-size="6.3" font-weight="bold" style="stroke-width:0.1px">65</text>
<text x="281.61" y="43.9" font-size="9.6" font-weight="bold">Cr</text>
<text x="292.18" y="48.6" font-size="6.3" font-weight="bold" style="stroke-width:0.1px">27</text>
<text x="298.86" y="43.9" font-size="9.6" font-weight="bold">Fe</text>
<text x="310.00" y="48.6" font-size="6.3" font-weight="bold" style="stroke-width:0.1px">8</text>
<text x="255.80" y="63.2" font-size="9.6" font-weight="bold">+</text>
<text x="264.56" y="63.2" font-size="9.6" font-weight="bold">Al</text>
<text x="274.30" y="68.2" font-size="6.3" font-weight="bold" style="stroke-width:0.1px">12.59</text>
<text x="288.36" y="63.2" font-size="9.6" font-weight="bold">Fe</text>
<text x="300.47" y="68.2" font-size="6.3" font-weight="bold" style="stroke-width:0.1px">6.41</text>
<text x="590.43" y="47.1" font-size="9.6" font-weight="bold">o</text>
<text x="598.86" y="47.1" font-size="9.6" font-weight="bold">Al</text>
<text x="607.78" y="51.6" font-size="6.0" font-weight="bold" style="stroke-width:0.1px">65</text>
<text x="614.81" y="47.1" font-size="9.6" font-weight="bold">Cr</text>
<text x="625.59" y="51.6" font-size="6.0" font-weight="bold" style="stroke-width:0.1px">27</text>
<text x="631.76" y="47.1" font-size="9.6" font-weight="bold">Fe</text>
<text x="643.41" y="51.6" font-size="6.0" font-weight="bold" style="stroke-width:0.1px">8</text>
<text x="591.27" y="61.6" font-size="9.6" font-weight="bold">*</text>
<text x="598.36" y="61.6" font-size="9.6" font-weight="bold">Al</text>
<text x="607.21" y="66" font-size="6.0" font-weight="bold" style="stroke-width:0.1px">8.26</text>
<text x="618.71" y="61.6" font-size="9.6" font-weight="bold">Cr</text>
<text x="629.61" y="66" font-size="6.0" font-weight="bold" style="stroke-width:0.1px">4.74</text>
<text x="590.67" y="76.4" font-size="10.4" font-weight="bold">^</text>
<text x="598.66" y="76.4" font-size="9.6" font-weight="bold">Al</text>
<text x="607.89" y="80.4" font-size="6.0" font-weight="bold" style="stroke-width:0.1px">2</text>
<text x="611.01" y="76.4" font-size="9.6" font-weight="bold">Cr</text>
<text x="589.57" y="89.8" font-size="10.4" font-weight="bold">=</text>
<text x="598.66" y="89.8" font-size="9.6" font-weight="bold">Al</text>
<text x="608.11" y="94.0" font-size="6.0" font-weight="bold" style="stroke-width:0.1px">8</text>
<text x="611.31" y="89.8" font-size="9.6" font-weight="bold">Cr</text>
<text x="622.61" y="94.6" font-size="6.0" font-weight="bold" style="stroke-width:0.1px">5</text>
<text x="590.42" y="103.1" font-size="10.6" font-weight="bold">#</text>
<text x="598.66" y="103.1" font-size="9.6" font-weight="bold">Al</text>
<text x="608.21" y="107.2" font-size="6.0" font-weight="bold" style="stroke-width:0.1px">45</text>
<text x="614.81" y="103.1" font-size="9.6" font-weight="bold">Cr</text>
<text x="625.34" y="107.2" font-size="6.0" font-weight="bold" style="stroke-width:0.1px">7</text>
<text x="166.4" y="265.0" font-size="10.6" font-weight="bold">2</text>
<ellipse cx="176.35" cy="261.2" rx="3.05" ry="3.35" fill="none" stroke="#222" stroke-width="1.0"/>
<path d="M174.70 261.2H178.00" stroke="#222" stroke-width="0.9"/>
<text x="182.5" y="265.0" font-size="10.3" font-weight="bold">[</text>
<circle cx="191.00" cy="256.4" r="1.45" fill="none" stroke="#222" stroke-width="0.8"/>
<text x="196.1" y="265.0" font-size="10.3" font-weight="bold">]</text>
<text x="500.8" y="265.0" font-size="10.6" font-weight="bold">2</text>
<ellipse cx="510.75" cy="261.2" rx="3.05" ry="3.35" fill="none" stroke="#222" stroke-width="1.0"/>
<path d="M509.10 261.2H512.40" stroke="#222" stroke-width="0.9"/>
<text x="516.9" y="265.0" font-size="10.3" font-weight="bold">[</text>
<circle cx="525.40" cy="256.4" r="1.45" fill="none" stroke="#222" stroke-width="0.8"/>
<text x="530.5" y="265.0" font-size="10.3" font-weight="bold">]</text>
<text transform="translate(11.1,120.6) rotate(-90)" text-anchor="middle" font-size="11.2" font-weight="bold">Intensity [a.u.]</text>
<text transform="translate(347.2,122.8) rotate(-90)" text-anchor="middle" font-size="11.2" font-weight="bold">Intensity [a.u.]</text>
</svg></body></html>
